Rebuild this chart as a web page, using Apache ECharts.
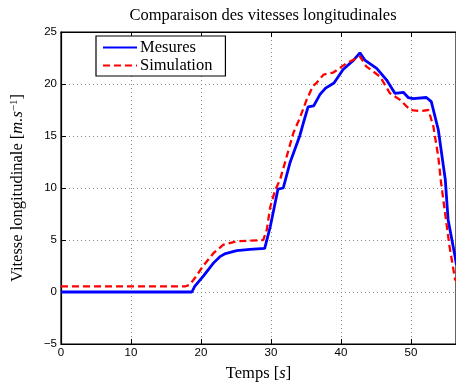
<!DOCTYPE html>
<html><head><meta charset="utf-8">
<script src="https://cdn.jsdelivr.net/npm/echarts@6/dist/echarts.min.js"></script>
<style>html,body{margin:0;padding:0;background:#fff}#c{width:456px;height:386px}</style>
</head><body><div id="c"></div>
<script>
var measTime = [0, 18.7, 19.1, 20.3, 21.8, 22.7, 23.5, 25.1, 27.0, 29.1, 29.9, 31.0, 31.75, 32.7, 34.1, 34.6, 35.3, 36.1, 37.0, 37.8, 39.0, 40.3, 41.8, 42.7, 43.4, 45.1, 46.5, 47.7, 48.9, 49.6, 50.3, 52.2, 52.9, 53.9, 54.9, 55.3, 56.3, 56.5];
var measVals = [0, 0, 0.54, 1.5, 2.8, 3.4, 3.7, 3.97, 4.1, 4.2, 6.3, 9.9, 10.0, 12.4, 15.0, 16.2, 17.8, 17.9, 19.0, 19.6, 20.1, 21.4, 22.3, 23.0, 22.3, 21.5, 20.4, 19.1, 19.2, 18.7, 18.6, 18.7, 18.3, 15.6, 10.8, 6.95, 3.4, 2.6];
var simTime = [0, 17.8, 18.4, 19.3, 20.3, 21.8, 23.2, 25.1, 28.9, 29.4, 29.9, 30.6, 31.3, 33.2, 34.1, 35.1, 36.0, 36.5, 37.5, 38.9, 40.8, 42.7, 43.6, 45.6, 47.0, 48.4, 49.9, 51.3, 52.5, 53.2, 53.9, 54.3, 55.5, 56.3, 56.5];
var simVals = [0.55, 0.55, 0.7, 1.5, 2.5, 3.75, 4.55, 4.87, 5.0, 6.0, 8.2, 9.8, 10.8, 15.3, 16.7, 18.5, 19.8, 20.1, 20.9, 21.1, 22.0, 22.65, 21.7, 20.7, 19.1, 18.5, 17.5, 17.4, 17.5, 15.9, 13.0, 10.5, 4.4, 1.2, 1.1];
var seriesNames = ['Mesures', 'Simulation'];
var titleText = 'Comparaison des vitesses longitudinales';
var xMin = 0, xMax = 56.43, xStep = 10;
var yMin = -5, yMax = 25, yStep = 5;

function pairs(t, v) { return t.map(function (x, i) { return [x, v[i]]; }); }
function fmt(v) { return v < 0 ? '\u2212' + Math.abs(v) : String(v); }

var serif = '"Liberation Serif", "DejaVu Serif", serif';
var sans = '"Liberation Sans", Arial, sans-serif';
var gridLine = { show: true, lineStyle: { color: '#888', type: [1, 3], width: 1 } };
var tickIn = { show: true, inside: true, length: 5, lineStyle: { color: '#000' } };

var chart = echarts.init(document.getElementById('c'), null, { renderer: 'canvas' });
chart.setOption({
  animation: false,
  backgroundColor: '#fff',
  title: { text: titleText, left: 258, top: 2, textAlign: 'center',
    textStyle: { fontFamily: serif, fontWeight: 'normal', fontSize: 16.5, color: '#000' } },
  grid: { left: 61, right: 0, top: 32, bottom: 42, show: true, borderColor: '#000', borderWidth: 1.2,
    containLabel: false, outerBoundsMode: 'none' },
  legend: {
    orient: 'vertical', left: 96, top: 36,
    padding: [3, 13, 2, 6], itemGap: 1,
    backgroundColor: '#fff', borderColor: '#000', borderWidth: 1.2, borderRadius: 0,
    itemWidth: 34, itemHeight: 16,
    itemStyle: { opacity: 0 },
    textStyle: { fontFamily: serif, fontSize: 16.5, color: '#000', padding: [0, 0, 0, -2] },
    data: seriesNames
  },
  xAxis: [{
    type: 'value', min: xMin, max: xMax, interval: xStep,
    name: '{a|Temps [}{i|s}{a|]}', nameLocation: 'middle', nameGap: 21,
    nameTextStyle: { rich: { a: { fontFamily: serif, fontSize: 16.5, color: '#000' }, i: { fontFamily: serif, fontSize: 16.5, fontStyle: 'italic', color: '#000' } } },
    axisLine: { show: true, onZero: false, lineStyle: { color: '#000', width: 1.2 } },
    axisTick: tickIn,
    axisLabel: { fontFamily: sans, fontSize: 11.5, color: '#000', margin: 3, showMaxLabel: false, formatter: fmt },
    splitLine: gridLine
  }, {
    type: 'value', min: xMin, max: xMax, interval: xStep, position: 'top',
    axisLine: { show: true, onZero: false, lineStyle: { color: '#000', width: 1.2 } },
    axisTick: tickIn, axisLabel: { show: false }, splitLine: { show: false }
  }],
  yAxis: [{
    type: 'value', min: yMin, max: yMax, interval: yStep,
    name: '{a|Vitesse longitudinale [}{i|m.s}{s|\u22121}{a|]}', nameLocation: 'middle', nameGap: 35, nameRotate: 90,
    nameTextStyle: { rich: {
      a: { fontFamily: serif, fontSize: 16.5, color: '#000' },
      i: { fontFamily: serif, fontSize: 16.5, fontStyle: 'italic', color: '#000' },
      s: { fontFamily: serif, fontSize: 11, color: '#000', verticalAlign: 'top', lineHeight: 10 } } },
    axisLine: { show: true, onZero: false, lineStyle: { color: '#000', width: 1.2 } },
    axisTick: tickIn,
    axisLabel: { fontFamily: sans, fontSize: 11.5, color: '#000', margin: 4, formatter: fmt },
    splitLine: gridLine
  }],
  series: [{
    name: seriesNames[0], type: 'line', showSymbol: false, symbol: 'none',
    data: pairs(measTime, measVals),
    lineStyle: { color: '#0000ff', width: 2.8 }, itemStyle: { color: '#0000ff' }, z: 3
  }, {
    name: seriesNames[1], type: 'line', showSymbol: false, symbol: 'none',
    data: pairs(simTime, simVals),
    lineStyle: { color: '#ff0000', width: 2.3, type: [7, 4] }, itemStyle: { color: '#ff0000' }, z: 4
  }]
});
</script></body></html>
